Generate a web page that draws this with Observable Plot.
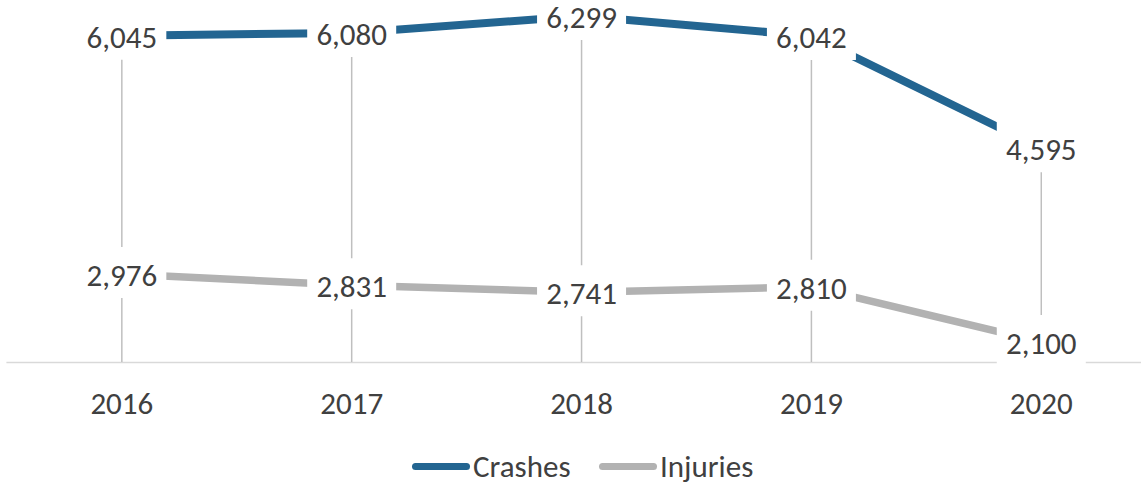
<!DOCTYPE html>
<html>
<head>
<meta charset="utf-8">
<script src="https://cdn.jsdelivr.net/npm/d3@7"></script>
<script src="https://cdn.jsdelivr.net/npm/@observablehq/plot@0.6"></script>
<style>
  html, body { margin: 0; padding: 0; background: #fff; }
  body { width: 1141px; height: 484px; overflow: hidden; font-family: Carlito, Calibri, Lato, sans-serif; }
  #legend { position: relative; height: 44px; }
  .item { position: absolute; top: 4px; height: 44px; display: flex; align-items: center; font-size: 31px; color: #404040; }
  .swatch { width: 58px; height: 7px; border-radius: 4px; margin-right: 3px; }
</style>
</head>
<body>
<div id="chart"></div>
<div id="legend"></div>
<script>
const years = [2016, 2017, 2018, 2019, 2020];
const crashes = [6045, 6080, 6299, 6042, 4595];
const injuries = [2976, 2831, 2741, 2810, 2100];
const seriesNames = ["Crashes", "Injuries"];
const seriesColors = ["#236591", "#b2b2b2"];

const yMin = 1836, yMax = 6498;
const xMin = 2015.5, xMax = 2020.436;

const rows = [];
years.forEach((yr, i) => {
  rows.push({year: yr, value: crashes[i], series: "Crashes"});
  rows.push({year: yr, value: injuries[i], series: "Injuries"});
});
const crashRows = rows.filter(d => d.series === "Crashes");
const injuryRows = rows.filter(d => d.series === "Injuries");

const boxSymbol = { draw(context) { context.rect(-44.5, -27, 89, 51); } };

const plot = Plot.plot({
  width: 1141,
  height: 440,
  marginLeft: 6,
  marginRight: 0,
  marginTop: 0,
  marginBottom: 78,
  style: { fontFamily: "Carlito, Calibri, Lato, sans-serif", background: "#fff" },
  x: { domain: [xMin, xMax], range: [6.4, 1141], axis: null },
  y: { domain: [yMin, yMax], range: [362, 0], axis: null },
  marks: [
    Plot.ruleY([yMin], { x1: xMin, x2: xMax, stroke: "#d9d9d9", strokeWidth: 1.5 }),
    Plot.ruleX(crashRows, { x: "year", y1: yMin, y2: "value", stroke: "#bfbfbf", strokeWidth: 1.5 }),
    Plot.line(crashRows, { x: "year", y: "value", stroke: seriesColors[0], strokeWidth: 8 }),
    Plot.line(injuryRows, { x: "year", y: "value", stroke: seriesColors[1], strokeWidth: 7.5 }),
    Plot.dot(rows, { x: "year", y: "value", symbol: boxSymbol, r: 5, fill: "white", stroke: "none" }),
    Plot.text(rows, { x: "year", y: "value", text: d => d3.format(",")(d.value), fontSize: 31, fill: "#404040", dy: 2 }),
    Plot.axisX(years, { tickSize: 0, tickPadding: 29, fontSize: 31, fill: "#404040", tickFormat: d => String(d), anchor: "bottom", label: null, y: yMin })
  ]
});
document.getElementById("chart").appendChild(plot);

const legend = document.getElementById("legend");
const lefts = [412, 599];
seriesNames.forEach((name, i) => {
  const item = document.createElement("div");
  item.className = "item";
  item.style.left = lefts[i] + "px";
  const sw = document.createElement("span");
  sw.className = "swatch";
  sw.style.background = seriesColors[i];
  const label = document.createElement("span");
  label.textContent = name;
  item.appendChild(sw);
  item.appendChild(label);
  legend.appendChild(item);
});
</script>
</body>
</html>
